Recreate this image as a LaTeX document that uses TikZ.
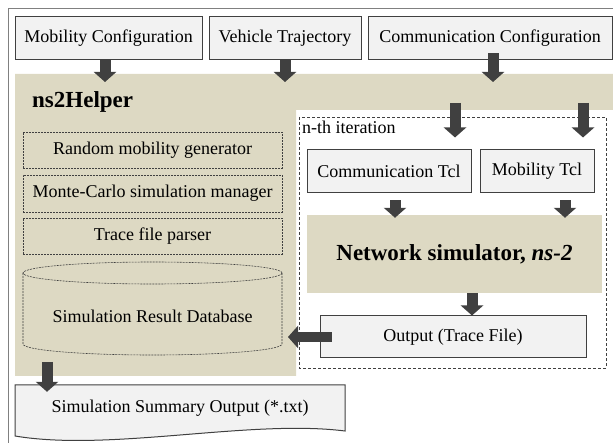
\documentclass[tikz,border=0pt]{standalone}
\usepackage{fontspec}
\setmainfont{Liberation Serif}
\usetikzlibrary{arrows.meta,calc}
\definecolor{tanbg}{HTML}{DDD9C3}
\definecolor{boxfill}{HTML}{F2F2F2}
\definecolor{boxdraw}{HTML}{404040}
\definecolor{arrowc}{HTML}{404040}
\definecolor{framec}{HTML}{808080}
\newcommand{\bodyfont}{\fontsize{18}{21}\selectfont}
\newcommand{\bigbold}{\fontsize{23}{27}\selectfont\bfseries}
\tikzset{
  cbox/.style={draw=boxdraw, fill=boxfill, line width=1pt, inner sep=0pt, font=\bodyfont},
  dbox/.style={draw=boxdraw, line width=0.6pt, dash pattern=on 2pt off 1pt, inner sep=0pt, font=\bodyfont, minimum width=259pt},
  barrow/.style={draw=arrowc, line width=11pt, -{Triangle[length=10pt,width=22pt]}},
  txt/.style={inner sep=0pt, font=\bodyfont},
}
\begin{document}
\begin{tikzpicture}[x=1pt,y=-1pt]
\useasboundingbox (0,0) rectangle (613,443);
% tan helper region
\fill[tanbg] (15,74) -- (613,74) -- (613,110) -- (296,110) -- (296,376) -- (15,376) -- cycle;
% outer frame
\draw[framec, line width=1pt] (8,443) -- (8,9) -- (613,9);
% top boxes
\node[cbox, minimum width=187pt, minimum height=43pt] (mobcfg) at (108.5,38.5) {Mobility Configuration};
\node[cbox, minimum width=152pt, minimum height=43pt] (vehtraj) at (285,38.5) {Vehicle Trajectory};
\node[cbox, minimum width=244pt, minimum height=43pt] (comcfg) at (490,38.5) {Communication Configuration};
% helper title
\node[inner sep=0pt, font=\bigbold, anchor=west] (helper) at (32,102) {ns2Helper};
% left modules
\node[dbox, minimum height=36pt] (rmg) at (152.5,150) {Random mobility generator};
\node[dbox, minimum height=37pt] (mcs) at (152.5,193.5) {Monte-Carlo simulation manager};
\node[dbox, minimum height=36pt] (tfp) at (152.5,236) {Trace file parser};
% database cylinder
\draw[boxdraw, line width=0.6pt, dash pattern=on 2pt off 1pt] (23,273) -- (23,344) arc[start angle=180, end angle=360, x radius=129.5pt, y radius=11pt] -- (282,273);
\draw[boxdraw, line width=0.6pt, dash pattern=on 2pt off 1pt] (152.5,273) ellipse [x radius=129.5pt, y radius=11pt];
\node[txt] (db) at (152.5,316) {Simulation Result Database};
% iteration box
\draw[boxdraw, line width=0.8pt, dash pattern=on 3pt off 2pt] (299,117) rectangle (606,368);
\node[txt, anchor=west] (iter) at (302,127) {n-th iteration};
\node[cbox, minimum width=164pt, minimum height=43pt] (comtcl) at (389,171.5) {Communication Tcl};
\node[cbox, minimum width=114pt, minimum height=43pt] (mobtcl) at (537,171.5) {Mobility Tcl};
\node[fill=tanbg, inner sep=0pt, minimum width=295pt, minimum height=78pt, font=\bigbold] (netsim) at (454.5,254) {Network simulator, \textit{ns-2}};
\node[cbox, minimum width=266pt, minimum height=42pt] (output) at (453,337) {Output (Trace File)};
% summary document
\draw[boxdraw, fill=boxfill, line width=1pt] (15,385) -- (345,385) -- (345,431) .. controls (250,419) and (110,452) .. (15,436) -- cycle;
\node[txt, minimum width=330pt, minimum height=46pt] (summ) at (180,408) {Simulation Summary Output (*.txt)};
% coordinates for free ends
\coordinate (a1e) at (105,82);
\coordinate (a2e) at (285,82);
\coordinate (a3e) at (493,82);
\coordinate (a4s) at (455,103);
\coordinate (a5s) at (583,103);
\coordinate (a9e) at (288,337);
\coordinate (a10s) at (47,362);
% arrows
\draw[barrow] (mobcfg.south -| a1e) -- (a1e);
\draw[barrow] (vehtraj.south -| a2e) -- (a2e);
\draw[barrow] ($(comcfg.south -| a3e)+(0,-7)$) -- (a3e);
\draw[barrow] (a4s) -- ($(comtcl.north -| a4s)+(0,-12)$);
\draw[barrow] (a5s) -- ($(mobtcl.north -| a5s)+(0,-12)$);
\draw[barrow] ($(comtcl.south)+(6,7)$) -- ($(netsim.north -| 395,0)+(0,3)$);
\draw[barrow] ($(mobtcl.south)+(28,7)$) -- ($(netsim.north -| 565,0)+(0,3)$);
\draw[barrow] (netsim.south -| 472,0) -- (output.north -| 472,0);
\draw[barrow, line width=10pt] ($(output.west)+(12,0)$) -- (a9e);
\draw[barrow] (a10s) -- ($(summ.north -| a10s)+(0,7)$);
\end{tikzpicture}
\end{document}
